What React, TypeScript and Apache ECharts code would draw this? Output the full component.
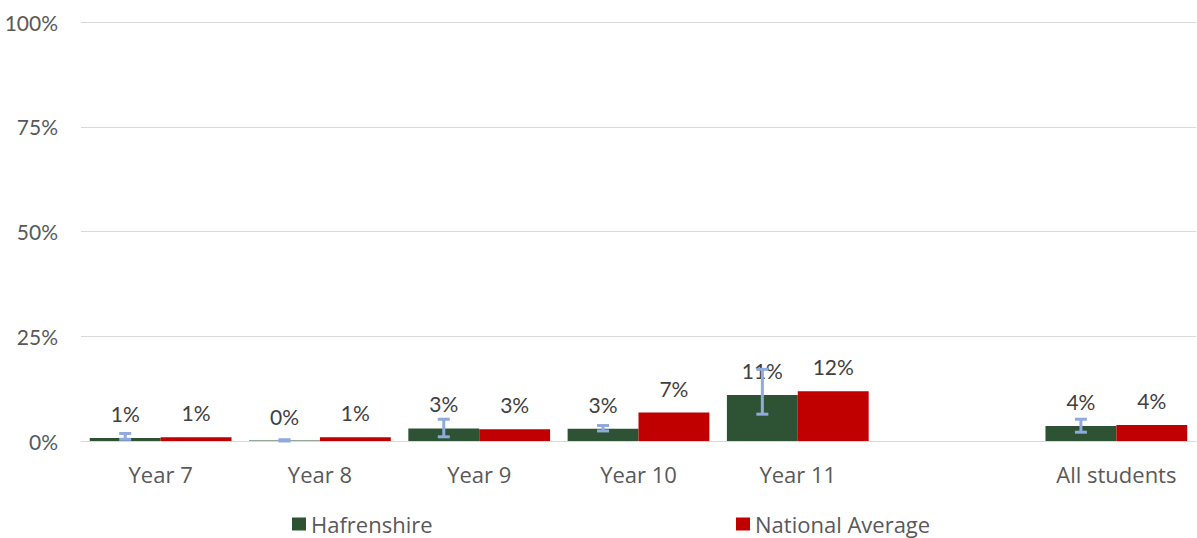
import React, { useEffect, useRef } from "react";
import * as echarts from "echarts";

const categories = ["Year 7", "Year 8", "Year 9", "Year 10", "Year 11", "", "All students"];
const hafrenshire = [0.7, 0.1, 3.0, 2.9, 11.0, null, 3.6];
const nationalAverage = [0.9, 0.9, 2.8, 6.8, 11.9, null, 3.8];
const errorLow = [0.4, 0.0, 1.0, 2.4, 6.4, null, 2.1];
const errorHigh = [1.8, 0.3, 5.2, 3.7, 17.1, null, 5.2];
const yTicks = [0, 25, 50, 75, 100];

const FONT = "Lato";
const TEXT_FONT = "Open Sans";
const GREEN = "#2E5234";
const RED = "#C00000";
const ERR = "#8FAADC";
const CAT_GAP = 0.11;

export default function App() {
  const ref = useRef<HTMLDivElement>(null);
  useEffect(() => {
    document.body.style.margin = "0";
    const chart = echarts.init(ref.current!, null, { renderer: "svg" });
    const errData = categories
      .map((_, i) => (errorLow[i] == null ? null : [i, errorLow[i], errorHigh[i]]))
      .filter((d) => d !== null);
    const legendText = { fontFamily: TEXT_FONT, fontSize: 22, color: "#595959" };
    const dataLabel = {
      show: true,
      position: "top",
      distance: 14,
      fontFamily: FONT,
      fontSize: 21,
      color: "#404040",
      formatter: (p: any) => Math.round(p.value) + "%",
    };
    chart.setOption({
      animation: false,
      textStyle: { fontFamily: FONT },
      grid: { left: 81, right: 1, top: 22, bottom: 97, containLabel: false },
      legend: [
        {
          data: ["Hafrenshire"],
          left: 287,
          top: 508,
          itemWidth: 14,
          itemHeight: 13,
          itemGap: 5,
          icon: "rect",
          textStyle: legendText,
        },
        {
          data: ["National Average"],
          left: 731,
          top: 508,
          itemWidth: 14,
          itemHeight: 13,
          icon: "rect",
          textStyle: legendText,
        },
      ],
      xAxis: {
        type: "category",
        data: categories,
        axisLine: { show: true, lineStyle: { color: "#D9D9D9", width: 1 } },
        axisTick: { show: false },
        axisLabel: { fontFamily: TEXT_FONT, fontSize: 22, color: "#595959", margin: 22, interval: 0 },
      },
      yAxis: {
        type: "value",
        min: yTicks[0],
        max: yTicks[yTicks.length - 1],
        interval: 25,
        axisLine: { show: false },
        axisTick: { show: false },
        splitLine: { lineStyle: { color: "#D9D9D9", width: 1 } },
        axisLabel: {
          fontFamily: FONT,
          fontSize: 21,
          color: "#595959",
          margin: 23,
          formatter: "{value}%",
        },
      },
      series: [
        {
          name: "Hafrenshire",
          type: "bar",
          data: hafrenshire,
          barGap: "0%",
          barCategoryGap: CAT_GAP * 100 + "%",
          itemStyle: { color: GREEN },
          label: dataLabel,
        },
        {
          name: "National Average",
          type: "bar",
          data: nationalAverage,
          barGap: "0%",
          barCategoryGap: CAT_GAP * 100 + "%",
          itemStyle: { color: RED },
          label: dataLabel,
        },
        {
          name: "err",
          type: "custom",
          z: 5,
          data: errData,
          renderItem: (params: any, api: any) => {
            const idx = api.value(0);
            const lo = api.coord([idx, api.value(1)]);
            const hi = api.coord([idx, api.value(2)]);
            const catW = api.size([1, 0])[0];
            const barW = (catW * (1 - CAT_GAP)) / 2;
            const x = lo[0] - barW / 2;
            const cap = 6;
            const style = { stroke: ERR, lineWidth: 3 };
            return {
              type: "group",
              children: [
                { type: "line", shape: { x1: x, y1: lo[1], x2: x, y2: hi[1] }, style },
                { type: "line", shape: { x1: x - cap, y1: lo[1], x2: x + cap, y2: lo[1] }, style },
                { type: "line", shape: { x1: x - cap, y1: hi[1], x2: x + cap, y2: hi[1] }, style },
              ],
            };
          },
        },
      ],
    });
    return () => chart.dispose();
  }, []);
  return <div ref={ref} style={{ width: 1197, height: 538 }} />;
}
